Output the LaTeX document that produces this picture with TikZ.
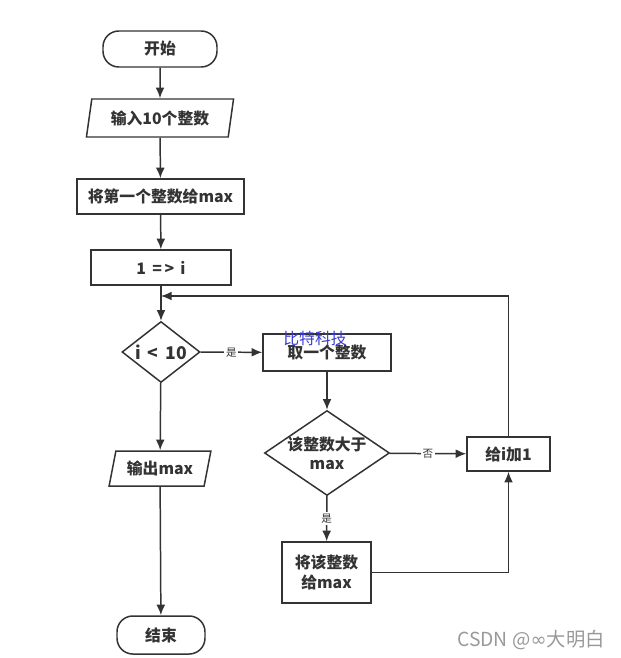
\documentclass[tikz,border=0pt]{standalone}
\usepackage{fontspec}
\setmainfont{Noto Sans CJK SC}
\newfontfamily\symfont{DejaVu Sans}
\usepackage{tikz}
\usepackage{xcolor}
\usetikzlibrary{
    arrows.meta,
    shapes,
    shapes.geometric,
    calc,
    positioning
}
\definecolor{ink}{HTML}{333333}
\definecolor{mark}{HTML}{3A3ACF}

\begin{document}
\begin{tikzpicture}[
        font=\fontsize{9}{11}\selectfont\bfseries,
        every node/.style={text=ink},
        line/.style={draw=ink, line width=0.85pt},
        arr/.style={line, -{Latex[length=6pt,width=5pt]}},
        terminal/.style={line, rounded corners=9pt, minimum width=2.28cm, minimum height=0.72cm, inner sep=1pt},
        io/.style={line, trapezium, trapezium stretches=true, inner sep=1pt},
        box/.style={line, rectangle, inner sep=1pt},
        decision/.style={line, diamond, inner sep=0pt, align=center},
        tag/.style={fill=white, inner sep=1pt, font=\fontsize{6}{7}\selectfont, text=ink}
    ]
                                \useasboundingbox (0, 0) rectangle (12.42, -13.16);
                                \node[terminal] (start) at (3.2, -0.98) {开始};
                                \node[io, trapezium left angle=78, trapezium right angle=102, minimum width=2.96cm, minimum height=0.76cm] (input) at (3.2, -2.36) {输入10个整数};
                                \node[box, minimum width=3.34cm, minimum height=0.7cm] (first) at (3.21, -3.93) {将第一个整数给max};
                                \node[box, minimum width=2.8cm, minimum height=0.7cm] (init) at (3.22, -5.35) {1 \,=\,> \,i};
                                \node[decision, aspect=1.3, minimum width=1.56cm, minimum height=1.22cm] (cond) at (3.22, -7.04) {\fontsize{10}{11}\selectfont i \,<\, 10};
                                \node[box, minimum width=2.56cm, minimum height=0.74cm] (take) at (6.54, -7.05) {取一个整数};
                                \node[decision, aspect=1.47, inner sep=-1pt, minimum width=2.5cm, minimum height=1.7cm] (cmp) at (6.54, -9.06) {该整数大于\\max};
                                \node[box, minimum width=1.66cm, minimum height=0.68cm] (inc) at (10.17, -9.08) {给i加1};
                                \node[box, minimum width=1.78cm, minimum height=1.22cm, align=center] (assign) at (6.53, -11.45) {将该整数\\给max};
                                \node[io, trapezium left angle=74, trapezium right angle=106, minimum width=2.04cm, minimum height=0.7cm] (output) at (3.2, -9.37) {输出max};
                                \node[terminal, minimum width=1.76cm, minimum height=0.76cm] (stop) at (3.22, -12.7) {结束};
                                \coordinate (loop) at (3.22, -5.92);

                                \draw[arr] (start) -- (input);
                                \draw[arr] (input) -- (first);
                                \draw[arr] (first) -- (init);
                                \draw[arr] (init) -- (cond);
                                \draw[arr] (cond) -- node[tag] {是} (take);
                                \draw[arr] (take) -- (cmp);
                                \draw[arr] (cmp) -- node[tag] {否} (inc);
                                \draw[arr] (cmp) -- node[tag] {是} (assign);
                                \draw[arr] (assign.east) -| (inc.south);
                                \draw[arr] (inc.north) |- (loop);
                                \draw[arr] (cond) -- (output);
                                \draw[arr] (output) -- (stop);

                                % watermarks
                                \node[font=\fontsize{9}{10}\selectfont, text=mark, inner sep=0pt] (wmark) at (6.3, -6.76) {比特科技};
                                \node[font=\fontsize{11}{13}\selectfont, text=black!40, inner sep=0pt] (csdn) at (10.62, -12.8) {CSDN @{\symfont ∞}大明白};
                            \end{tikzpicture}
\end{document}
